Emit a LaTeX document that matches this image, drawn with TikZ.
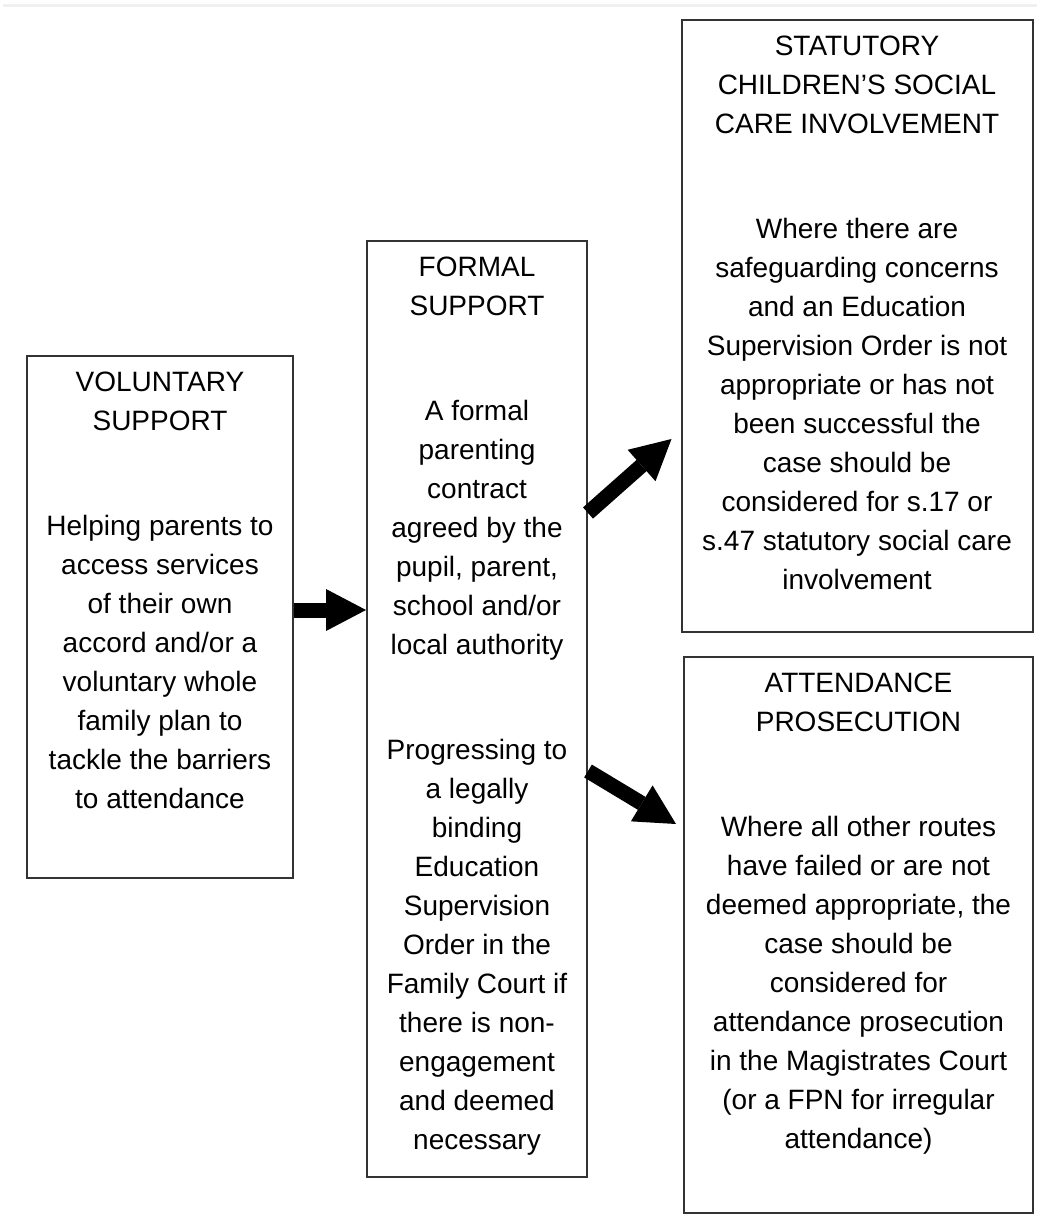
\documentclass[tikz,border=0pt]{standalone}
\usepackage{fontspec}
\setmainfont{Liberation Sans}
\usetikzlibrary{arrows.meta,positioning,calc}

\begin{document}
\begin{tikzpicture}[x=0.5pt,y=-0.5pt,
	box/.style={draw=black!80,line width=1pt,inner sep=0pt},
	boxtext/.style={align=center,inner sep=0pt,font=\fontsize{14pt}{19.5pt}\selectfont},
	fatarrow/.style={line width=7.5pt,-{Triangle[length=20pt,width=21pt,line width=0pt]}}]
	\useasboundingbox (0,0) rectangle (1037,1219);
	\draw[black!6,line width=1.5pt] (3,6)--(1037,6);
	% the four boxes
	\node[box,minimum width=133pt,minimum height=261pt] (vol) at (160,617) {};
	\node[box,minimum width=110pt,minimum height=468pt] (formal) at (477,709) {};
	\node[box,minimum width=175.5pt,minimum height=306pt] (stat) at (857,326) {};
	\node[box,minimum width=174.5pt,minimum height=278pt] (attend) at (858.5,935) {};
	% texts
	\node[boxtext,below=8.5pt of vol.north] (voltext) {VOLUNTARY\\SUPPORT\\[33pt]
		Helping parents to\\access services\\of their own\\accord and/or a\\voluntary whole\\family plan to\\tackle the barriers\\to attendance};
	\node[boxtext,below=8.5pt of formal.north] (formaltext) {FORMAL\\SUPPORT\\[33pt]
		A formal\\parenting\\contract\\agreed by the\\pupil, parent,\\school and/or\\local authority\\[33pt]
		Progressing to\\a legally\\binding\\Education\\Supervision\\Order in the\\Family Court if\\there is non-\\engagement\\and deemed\\necessary};
	\node[boxtext,below=8.5pt of stat.north] (stattext) {STATUTORY\\CHILDREN’S SOCIAL\\CARE INVOLVEMENT\\[33pt]
		Where there are\\safeguarding concerns\\and an Education\\Supervision Order is not\\appropriate or has not\\been successful the\\case should be\\considered for s.17 or\\s.47 statutory social care\\involvement};
	\node[boxtext,below=8.5pt of attend.north] (attendtext) {ATTENDANCE\\PROSECUTION\\[33pt]
		Where all other routes\\have failed or are not\\deemed appropriate, the\\case should be\\considered for\\attendance prosecution\\in the Magistrates Court\\(or a FPN for irregular\\attendance)};
	% arrows
	\draw[fatarrow] (vol.east |- 0,610)--(formal.west |- 0,610);
	\draw[fatarrow] (formal.east |- 0,513)--($(stat.west |- 0,439)+(-9,0)$);
	\draw[fatarrow] (formal.east |- 0,771)--($(attend.west |- 0,824)+(-7,0)$);
\end{tikzpicture}
\end{document}
